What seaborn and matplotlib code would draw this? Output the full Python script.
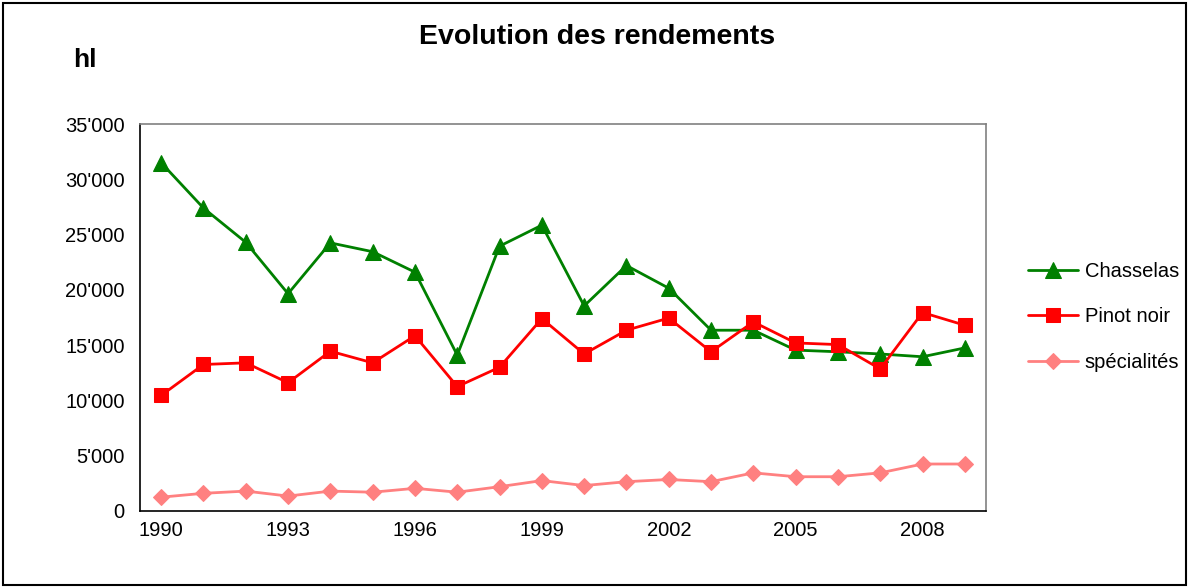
import numpy as np
import pandas as pd
import seaborn as sns
import matplotlib.pyplot as plt
from matplotlib.patches import Rectangle
from matplotlib.ticker import FuncFormatter

years = list(range(1990, 2010))
chasselas = [31500, 27400, 24300, 19650, 24250, 23450, 21600, 14100, 23950, 25850,
             18550, 22200, 20150, 16350, 16350, 14550, 14400, 14200, 13950, 14750]
pinot_noir = [10450, 13250, 13400, 11600, 14450, 13400, 15850, 11250, 13000, 17400,
              14200, 16350, 17450, 14400, 17100, 15200, 15050, 12850, 17950, 16800]
specialites = [1250, 1600, 1800, 1350, 1800, 1700, 2050, 1700, 2200, 2750,
               2300, 2650, 2850, 2650, 3450, 3100, 3100, 3450, 4250, 4250]

sns.set_style("white")
plt.rcParams['font.family'] = ['Liberation Sans', 'DejaVu Sans']
plt.rcParams['text.color'] = 'black'
plt.rcParams['xtick.color'] = 'black'
plt.rcParams['ytick.color'] = 'black'

fig = plt.figure(figsize=(11.9, 5.87), dpi=100)
ax = fig.add_axes([140/1190, 1-511/587, 846/1190, 387/587])

pos = np.arange(len(years))
sns.lineplot(x=pos, y=chasselas, ax=ax, color='#008000', marker='^', markersize=11,
             markeredgecolor='#008000', linewidth=2, label='Chasselas')
sns.lineplot(x=pos, y=pinot_noir, ax=ax, color='#FF0000', marker='s', markersize=10.5,
             markeredgecolor='#FF0000', linewidth=2, label='Pinot noir')
sns.lineplot(x=pos, y=specialites, ax=ax, color='#FF8080', marker='D', markersize=8,
             markeredgecolor='#FF8080', linewidth=2, label='spécialités')

ax.set_xlim(-0.5, len(years) - 0.5)
ax.set_ylim(0, 35000)
ax.set_yticks(np.arange(0, 35001, 5000))
ax.yaxis.set_major_formatter(FuncFormatter(lambda v, p: f"{int(v):,}".replace(',', "'")))
ax.set_xticks(pos[::3])
ax.set_xticklabels([str(y) for y in years[::3]])
ax.set_xticks(np.arange(-0.5, len(years), 1), minor=True)
ax.tick_params(axis='x', which='major', length=0, labelsize=14.5, pad=7)
ax.tick_params(axis='x', which='minor', length=5, width=1, direction='out', color='black')
ax.tick_params(axis='y', length=5, width=1, direction='out', color='black', labelsize=14.5, pad=6)
ax.set_xlabel('')
ax.set_ylabel('')

for s in ['left', 'bottom']:
    ax.spines[s].set_color('black')
    ax.spines[s].set_linewidth(1.2)
for s in ['top', 'right']:
    ax.spines[s].set_color('#808080')
    ax.spines[s].set_linewidth(1.2)

ax.legend(loc='center left', bbox_to_anchor=(1010/1190, 1-317/587),
          bbox_transform=fig.transFigure, frameon=False, fontsize=14.5,
          handlelength=2.5, labelspacing=1.3, handletextpad=0.3)

fig.text(597/1190, 1-37/587, 'Evolution des rendements', ha='center', va='center',
         fontsize=20.5, fontweight='bold')
fig.text(85/1190, 1-60/587, 'hl', ha='center', va='center', fontsize=19, fontweight='bold')

fig.patches.append(Rectangle((3/1190, 2/587), 1183/1190, 582/587, transform=fig.transFigure,
                             fill=False, edgecolor='black', linewidth=1.5))

fig.savefig('out.png', dpi=100)
